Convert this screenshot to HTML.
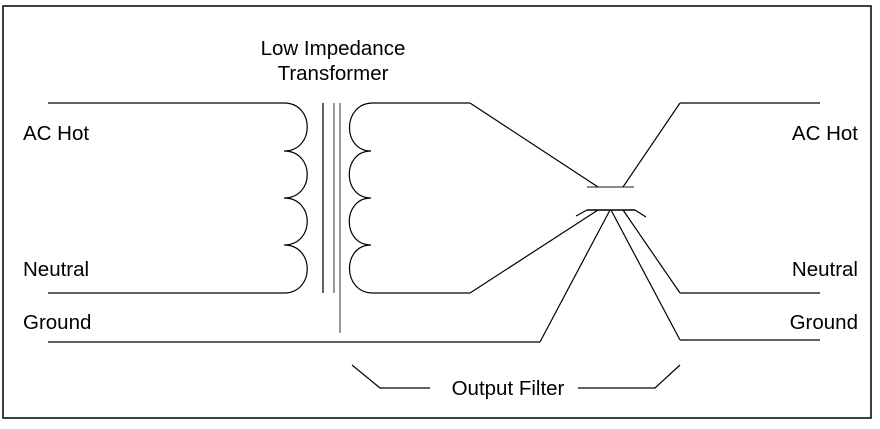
<!DOCTYPE html>
<html><head><style>
html,body{margin:0;padding:0;background:#fff;}
svg{display:block;}
text{font-family:"Liberation Sans",Arial,sans-serif;font-size:20.5px;fill:#000;}
</style></head><body>
<svg width="880" height="429" viewBox="0 0 880 429">
<rect x="3" y="6" width="868" height="412" fill="none" stroke="#000" stroke-width="1.5"/>
<g fill="none" stroke="#000" stroke-width="1.2">
<path d="M48,103 H284 C315,103 315,151 284,151 C315,151 315,198 284,198 C315,198 315,245 284,245 C315,245 315,293 284,293 H48"/>
<line x1="323" y1="103" x2="323" y2="293"/>
<line x1="334" y1="103" x2="334" y2="293" stroke="#555"/>
<line x1="340" y1="103" x2="340" y2="333" stroke="#555"/>
<path d="M470,103 H373 C342,103 342,151 371,151 C342,151 342,198 371,198 C342,198 342,245 371,245 C342,245 342,293 373,293 H470"/>
<line x1="587" y1="187" x2="634" y2="187" stroke="#666" stroke-width="1.5"/>
<line x1="587" y1="210" x2="635" y2="210" stroke-width="1.5"/>
<path d="M576,216 L587,210 M635,210 L646,217"/>
<line x1="470" y1="103" x2="598" y2="187"/>
<line x1="680" y1="103" x2="623" y2="187"/>
<line x1="470" y1="293" x2="598" y2="210"/>
<line x1="48" y1="342" x2="540" y2="342"/>
<line x1="540" y1="342" x2="610" y2="210"/>
<line x1="611" y1="210" x2="680" y2="340"/>
<line x1="623" y1="210" x2="680" y2="293"/>
<line x1="680" y1="103" x2="820" y2="103"/>
<line x1="680" y1="293" x2="820" y2="293"/>
<line x1="680" y1="340" x2="820" y2="340"/>
<path d="M352,365 L380,388 H430 M578,388 H655 L680,365"/>
</g>
<text x="333" y="55" text-anchor="middle">Low Impedance</text>
<text x="333" y="80" text-anchor="middle">Transformer</text>
<text x="23" y="140">AC Hot</text>
<text x="23" y="276">Neutral</text>
<text x="23" y="329">Ground</text>
<text x="858" y="140" text-anchor="end">AC Hot</text>
<text x="858" y="276" text-anchor="end">Neutral</text>
<text x="858" y="329" text-anchor="end">Ground</text>
<text x="508" y="395" text-anchor="middle">Output Filter</text>
</svg>
</body></html>
